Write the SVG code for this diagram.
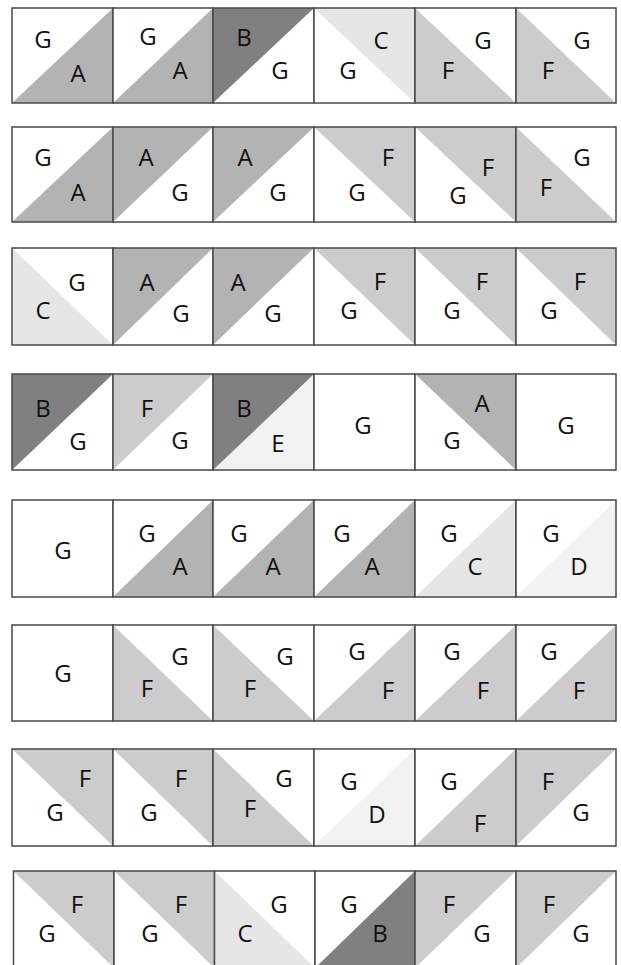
<svg xmlns="http://www.w3.org/2000/svg" width="621" height="965" viewBox="0 0 621 965">
<style>
.bg{fill:#ffffff}
.a{fill:#b3b3b3}
.b{fill:#808080}
.c{fill:#e6e6e6}
.d{fill:#f2f2f2}
.f{fill:#cccccc}
.bd{fill:none;stroke:#434b4b;stroke-width:1.5}
text{font-family:"Open Sans","Noto Sans","Liberation Sans",sans-serif;font-size:24px;fill:#111;text-anchor:middle}
</style>
<rect width="621" height="965" fill="#ffffff"/>
<g id="row1">
<g id="r1c1"><rect class="bg" x="12" y="8" width="101" height="95"/><polygon class="a" points="113,8 113,103 12,103"/><rect class="bd" x="12" y="8" width="101" height="95"/><text x="43" y="48">G</text><text x="78" y="82">A</text></g>
<g id="r1c2"><rect class="bg" x="113" y="8" width="100" height="95"/><polygon class="a" points="213,8 213,103 113,103"/><rect class="bd" x="113" y="8" width="100" height="95"/><text x="148" y="45">G</text><text x="180" y="79">A</text></g>
<g id="r1c3"><rect class="bg" x="213" y="8" width="101" height="95"/><polygon class="b" points="213,8 314,8 213,103"/><rect class="bd" x="213" y="8" width="101" height="95"/><text x="244" y="46">B</text><text x="280" y="79">G</text></g>
<g id="r1c4"><rect class="bg" x="314" y="8" width="101" height="95"/><polygon class="c" points="314,8 415,8 415,103"/><rect class="bd" x="314" y="8" width="101" height="95"/><text x="381" y="49">C</text><text x="348" y="79">G</text></g>
<g id="r1c5"><rect class="bg" x="415" y="8" width="101" height="95"/><polygon class="f" points="415,8 516,103 415,103"/><rect class="bd" x="415" y="8" width="101" height="95"/><text x="483" y="49">G</text><text x="448" y="79">F</text></g>
<g id="r1c6"><rect class="bg" x="516" y="8" width="100" height="95"/><polygon class="f" points="516,8 616,103 516,103"/><rect class="bd" x="516" y="8" width="100" height="95"/><text x="582" y="49">G</text><text x="548" y="79">F</text></g>
</g>
<g id="row2">
<g id="r2c1"><rect class="bg" x="12" y="127" width="101" height="95"/><polygon class="a" points="113,127 113,222 12,222"/><rect class="bd" x="12" y="127" width="101" height="95"/><text x="43" y="166">G</text><text x="78" y="201">A</text></g>
<g id="r2c2"><rect class="bg" x="113" y="127" width="100" height="95"/><polygon class="a" points="113,127 213,127 113,222"/><rect class="bd" x="113" y="127" width="100" height="95"/><text x="146" y="166">A</text><text x="180" y="201">G</text></g>
<g id="r2c3"><rect class="bg" x="213" y="127" width="101" height="95"/><polygon class="a" points="213,127 314,127 213,222"/><rect class="bd" x="213" y="127" width="101" height="95"/><text x="245" y="166">A</text><text x="278" y="201">G</text></g>
<g id="r2c4"><rect class="bg" x="314" y="127" width="101" height="95"/><polygon class="f" points="314,127 415,127 415,222"/><rect class="bd" x="314" y="127" width="101" height="95"/><text x="388" y="166">F</text><text x="357" y="201">G</text></g>
<g id="r2c5"><rect class="bg" x="415" y="127" width="101" height="95"/><polygon class="f" points="415,127 516,127 516,222"/><rect class="bd" x="415" y="127" width="101" height="95"/><text x="488" y="176">F</text><text x="458" y="204">G</text></g>
<g id="r2c6"><rect class="bg" x="516" y="127" width="100" height="95"/><polygon class="f" points="516,127 616,222 516,222"/><rect class="bd" x="516" y="127" width="100" height="95"/><text x="582" y="166">G</text><text x="546" y="196">F</text></g>
</g>
<g id="row3">
<g id="r3c1"><rect class="bg" x="12" y="248" width="101" height="97"/><polygon class="c" points="12,248 113,345 12,345"/><rect class="bd" x="12" y="248" width="101" height="97"/><text x="77" y="291">G</text><text x="43" y="319">C</text></g>
<g id="r3c2"><rect class="bg" x="113" y="248" width="100" height="97"/><polygon class="a" points="113,248 213,248 113,345"/><rect class="bd" x="113" y="248" width="100" height="97"/><text x="147" y="291">A</text><text x="181" y="322">G</text></g>
<g id="r3c3"><rect class="bg" x="213" y="248" width="101" height="97"/><polygon class="a" points="213,248 314,248 213,345"/><rect class="bd" x="213" y="248" width="101" height="97"/><text x="238" y="291">A</text><text x="273" y="322">G</text></g>
<g id="r3c4"><rect class="bg" x="314" y="248" width="101" height="97"/><polygon class="f" points="314,248 415,248 415,345"/><rect class="bd" x="314" y="248" width="101" height="97"/><text x="380" y="290">F</text><text x="349" y="319">G</text></g>
<g id="r3c5"><rect class="bg" x="415" y="248" width="101" height="97"/><polygon class="f" points="415,248 516,248 516,345"/><rect class="bd" x="415" y="248" width="101" height="97"/><text x="482" y="290">F</text><text x="452" y="319">G</text></g>
<g id="r3c6"><rect class="bg" x="516" y="248" width="100" height="97"/><polygon class="f" points="516,248 616,248 616,345"/><rect class="bd" x="516" y="248" width="100" height="97"/><text x="580" y="290">F</text><text x="549" y="319">G</text></g>
</g>
<g id="row4">
<g id="r4c1"><rect class="bg" x="12" y="374" width="101" height="96"/><polygon class="b" points="12,374 113,374 12,470"/><rect class="bd" x="12" y="374" width="101" height="96"/><text x="43" y="417">B</text><text x="78" y="450">G</text></g>
<g id="r4c2"><rect class="bg" x="113" y="374" width="100" height="96"/><polygon class="f" points="113,374 213,374 113,470"/><rect class="bd" x="113" y="374" width="100" height="96"/><text x="147" y="417">F</text><text x="180" y="449">G</text></g>
<g id="r4c3"><rect class="d" x="213" y="374" width="101" height="96"/><polygon class="b" points="213,374 314,374 213,470"/><rect class="bd" x="213" y="374" width="101" height="96"/><text x="244" y="417">B</text><text x="278" y="452">E</text></g>
<g id="r4c4"><rect class="bg" x="314" y="374" width="101" height="96"/><rect class="bd" x="314" y="374" width="101" height="96"/><text x="363" y="434">G</text></g>
<g id="r4c5"><rect class="bg" x="415" y="374" width="101" height="96"/><polygon class="a" points="415,374 516,374 516,470"/><rect class="bd" x="415" y="374" width="101" height="96"/><text x="482" y="412">A</text><text x="452" y="449">G</text></g>
<g id="r4c6"><rect class="bg" x="516" y="374" width="100" height="96"/><rect class="bd" x="516" y="374" width="100" height="96"/><text x="566" y="434">G</text></g>
</g>
<g id="row5">
<g id="r5c1"><rect class="bg" x="12" y="500" width="101" height="97"/><rect class="bd" x="12" y="500" width="101" height="97"/><text x="63" y="559">G</text></g>
<g id="r5c2"><rect class="bg" x="113" y="500" width="100" height="97"/><polygon class="a" points="213,500 213,597 113,597"/><rect class="bd" x="113" y="500" width="100" height="97"/><text x="147" y="542">G</text><text x="180" y="575">A</text></g>
<g id="r5c3"><rect class="bg" x="213" y="500" width="101" height="97"/><polygon class="a" points="314,500 314,597 213,597"/><rect class="bd" x="213" y="500" width="101" height="97"/><text x="239" y="542">G</text><text x="273" y="575">A</text></g>
<g id="r5c4"><rect class="bg" x="314" y="500" width="101" height="97"/><polygon class="a" points="415,500 415,597 314,597"/><rect class="bd" x="314" y="500" width="101" height="97"/><text x="342" y="542">G</text><text x="372" y="575">A</text></g>
<g id="r5c5"><rect class="bg" x="415" y="500" width="101" height="97"/><polygon class="c" points="516,500 516,597 415,597"/><rect class="bd" x="415" y="500" width="101" height="97"/><text x="449" y="542">G</text><text x="475" y="575">C</text></g>
<g id="r5c6"><rect class="bg" x="516" y="500" width="100" height="97"/><polygon class="d" points="616,500 616,597 516,597"/><rect class="bd" x="516" y="500" width="100" height="97"/><text x="551" y="542">G</text><text x="579" y="575">D</text></g>
</g>
<g id="row6">
<g id="r6c1"><rect class="bg" x="12" y="625" width="101" height="96"/><rect class="bd" x="12" y="625" width="101" height="96"/><text x="63" y="682">G</text></g>
<g id="r6c2"><rect class="bg" x="113" y="625" width="100" height="96"/><polygon class="f" points="113,625 213,721 113,721"/><rect class="bd" x="113" y="625" width="100" height="96"/><text x="180" y="665">G</text><text x="147" y="697">F</text></g>
<g id="r6c3"><rect class="bg" x="213" y="625" width="101" height="96"/><polygon class="f" points="213,625 314,721 213,721"/><rect class="bd" x="213" y="625" width="101" height="96"/><text x="285" y="665">G</text><text x="250" y="697">F</text></g>
<g id="r6c4"><rect class="bg" x="314" y="625" width="101" height="96"/><polygon class="f" points="415,625 415,721 314,721"/><rect class="bd" x="314" y="625" width="101" height="96"/><text x="357" y="660">G</text><text x="388" y="699">F</text></g>
<g id="r6c5"><rect class="bg" x="415" y="625" width="101" height="96"/><polygon class="f" points="516,625 516,721 415,721"/><rect class="bd" x="415" y="625" width="101" height="96"/><text x="452" y="660">G</text><text x="483" y="699">F</text></g>
<g id="r6c6"><rect class="bg" x="516" y="625" width="100" height="96"/><polygon class="f" points="616,625 616,721 516,721"/><rect class="bd" x="516" y="625" width="100" height="96"/><text x="549" y="660">G</text><text x="579" y="699">F</text></g>
</g>
<g id="row7">
<g id="r7c1"><rect class="bg" x="12" y="749" width="101" height="97"/><polygon class="f" points="12,749 113,749 113,846"/><rect class="bd" x="12" y="749" width="101" height="97"/><text x="85" y="787">F</text><text x="55" y="821">G</text></g>
<g id="r7c2"><rect class="bg" x="113" y="749" width="100" height="97"/><polygon class="f" points="113,749 213,749 213,846"/><rect class="bd" x="113" y="749" width="100" height="97"/><text x="181" y="787">F</text><text x="149" y="821">G</text></g>
<g id="r7c3"><rect class="bg" x="213" y="749" width="101" height="97"/><polygon class="f" points="213,749 314,846 213,846"/><rect class="bd" x="213" y="749" width="101" height="97"/><text x="284" y="787">G</text><text x="250" y="817">F</text></g>
<g id="r7c4"><rect class="bg" x="314" y="749" width="101" height="97"/><polygon class="d" points="415,749 415,846 314,846"/><rect class="bd" x="314" y="749" width="101" height="97"/><text x="349" y="790">G</text><text x="377" y="823">D</text></g>
<g id="r7c5"><rect class="bg" x="415" y="749" width="101" height="97"/><polygon class="f" points="516,749 516,846 415,846"/><rect class="bd" x="415" y="749" width="101" height="97"/><text x="449" y="790">G</text><text x="480" y="832">F</text></g>
<g id="r7c6"><rect class="bg" x="516" y="749" width="100" height="97"/><polygon class="f" points="516,749 616,749 516,846"/><rect class="bd" x="516" y="749" width="100" height="97"/><text x="548" y="790">F</text><text x="581" y="821">G</text></g>
</g>
<g id="row8">
<g id="r8c1"><rect class="bg" x="13.5" y="871" width="100.5" height="97"/><polygon class="f" points="13.5,871 114,871 114,968"/><rect class="bd" x="13.5" y="871" width="100.5" height="97"/><text x="77" y="913">F</text><text x="47" y="942">G</text></g>
<g id="r8c2"><rect class="bg" x="114" y="871" width="100.5" height="97"/><polygon class="f" points="114,871 214.5,871 214.5,968"/><rect class="bd" x="114" y="871" width="100.5" height="97"/><text x="181" y="913">F</text><text x="150" y="942">G</text></g>
<g id="r8c3"><rect class="bg" x="214.5" y="871" width="100.5" height="97"/><polygon class="c" points="214.5,871 315,968 214.5,968"/><rect class="bd" x="214.5" y="871" width="100.5" height="97"/><text x="279" y="913">G</text><text x="245" y="942">C</text></g>
<g id="r8c4"><rect class="bg" x="315" y="871" width="100" height="97"/><polygon class="b" points="415,871 415,968 315,968"/><rect class="bd" x="315" y="871" width="100" height="97"/><text x="349" y="913">G</text><text x="380" y="942">B</text></g>
<g id="r8c5"><rect class="bg" x="415" y="871" width="101" height="97"/><polygon class="f" points="415,871 516,871 415,968"/><rect class="bd" x="415" y="871" width="101" height="97"/><text x="449" y="913">F</text><text x="482" y="942">G</text></g>
<g id="r8c6"><rect class="bg" x="516" y="871" width="100" height="97"/><polygon class="f" points="516,871 616,871 516,968"/><rect class="bd" x="516" y="871" width="100" height="97"/><text x="549" y="913">F</text><text x="581" y="942">G</text></g>
</g>
<g id="connectors"></g>
</svg>
